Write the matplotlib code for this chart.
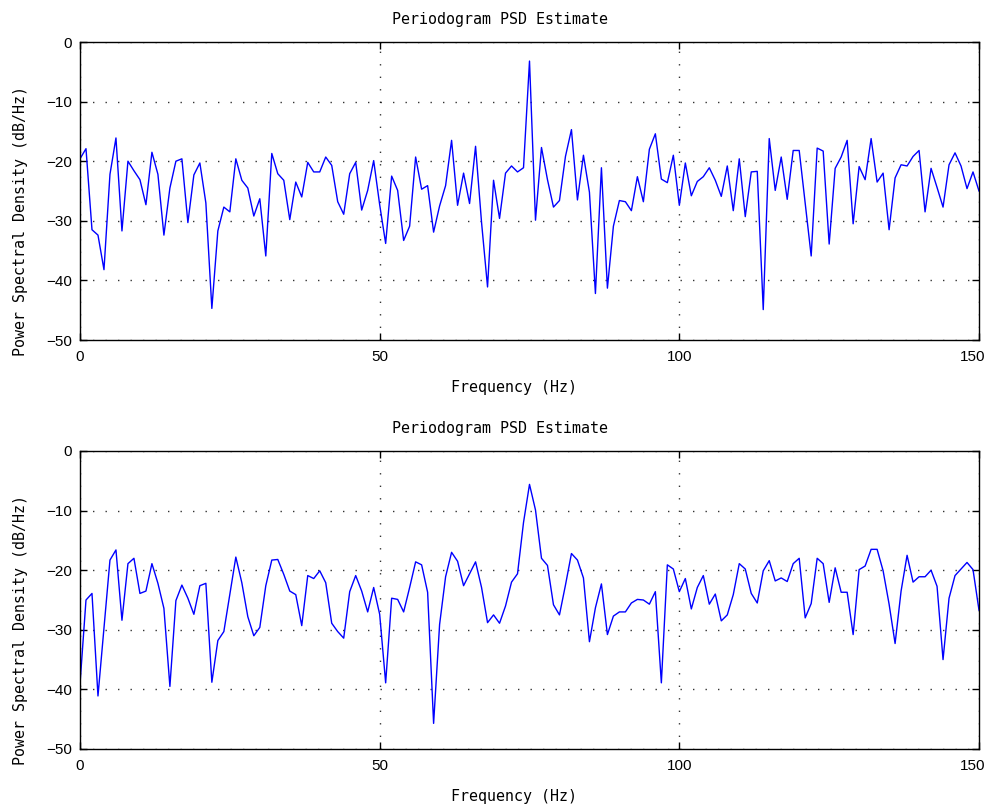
import numpy as np
import matplotlib
matplotlib.use("Agg")
import matplotlib.pyplot as plt
import matplotlib.transforms as mtransforms

freq = list(range(0, 151))

psd_top = [
    -19.6, -17.9, -31.5, -32.4, -38.2, -22.2, -16.1, -31.7, -20.0, -21.6,
    -23.1, -27.3, -18.5, -22.2, -32.4, -24.5, -20.0, -19.6, -30.3, -22.3,
    -20.3, -27.0, -44.7, -31.7, -27.7, -28.5, -19.6, -23.2, -24.5, -29.2,
    -26.3, -35.9, -18.7, -22.1, -23.2, -29.8, -23.5, -26.0, -20.2, -21.8,
    -21.8, -19.3, -20.7, -26.8, -28.9, -22.1, -20.2, -28.2, -24.9, -19.9,
    -27.3, -33.8, -22.5, -24.9, -33.3, -30.9, -19.3, -24.7, -24.1, -31.9,
    -27.5, -24.1, -16.5, -27.4, -22.0, -27.1, -17.5, -30.3, -41.1, -23.2,
    -29.6, -22.0, -20.8, -21.8, -21.1, -3.2, -29.9, -17.7, -23.1, -27.7,
    -26.6, -19.2, -14.7, -26.5, -19.0, -25.2, -42.2, -21.1, -41.3, -30.9,
    -26.6, -26.8, -28.3, -22.6, -26.8, -18.0, -15.4, -23.0, -23.6, -19.0,
    -27.4, -20.3, -25.8, -23.4, -22.6, -21.1, -23.2, -25.9, -20.8, -28.3,
    -19.6, -29.3, -21.8, -21.7, -44.9, -16.2, -24.9, -19.3, -26.4, -18.2,
    -18.2, -27.0, -35.9, -17.8, -18.3, -33.9, -21.2, -19.3, -16.5, -30.5,
    -20.9, -23.1, -16.2, -23.5, -22.0, -31.5, -22.8, -20.6, -20.8, -19.2,
    -18.2, -28.5, -21.2, -24.4, -27.7, -20.6, -18.6, -20.8, -24.6, -21.8,
    -25.0,
]

psd_bottom = [
    -39.1, -25.0, -23.9, -41.1, -29.6, -18.3, -16.6, -28.4, -18.9, -18.0,
    -23.9, -23.5, -18.9, -22.2, -26.4, -39.5, -25.1, -22.5, -24.7, -27.4,
    -22.6, -22.2, -38.8, -31.8, -30.3, -24.0, -17.8, -22.1, -27.8, -31.0,
    -29.6, -22.6, -18.3, -18.2, -20.7, -23.5, -24.1, -29.3, -20.9, -21.4,
    -20.1, -22.1, -28.9, -30.3, -31.4, -23.6, -20.9, -23.5, -27.0, -22.9,
    -27.4, -38.9, -24.7, -24.9, -27.0, -22.9, -18.6, -19.1, -23.7, -45.7,
    -29.1, -21.1, -17.0, -18.5, -22.6, -20.6, -18.6, -22.9, -28.8, -27.5,
    -28.9, -26.0, -22.0, -20.6, -12.0, -5.6, -9.9, -18.0, -19.2, -25.8,
    -27.5, -22.5, -17.2, -18.3, -21.3, -32.0, -26.3, -22.3, -30.8, -27.7,
    -27.0, -27.0, -25.5, -24.9, -25.0, -25.7, -23.6, -38.9, -19.1, -19.8,
    -23.6, -21.4, -26.5, -22.9, -20.9, -25.7, -24.0, -28.5, -27.5, -24.1,
    -18.9, -19.8, -23.9, -25.5, -20.1, -18.4, -21.8, -21.3, -21.9, -18.9,
    -18.0, -28.0, -25.6, -18.0, -18.9, -25.4, -19.6, -23.7, -23.7, -30.8,
    -19.9, -19.3, -16.5, -16.5, -20.1, -25.7, -32.3, -23.5, -17.5, -22.0,
    -21.1, -21.1, -20.0, -22.7, -35.0, -24.7, -20.9, -19.8, -18.7, -19.9,
    -26.7,
]

xticks = [0, 50, 100, 150]
yticks = [0, -10, -20, -30, -40, -50]
title = "Periodogram PSD Estimate"
xlabel = "Frequency (Hz)"
ylabel = "Power Spectral Density (dB/Hz)"

label_font = ["DejaVu Sans Mono"]
tick_font = ["Liberation Sans", "DejaVu Sans"]

fig = plt.figure(figsize=(9.9, 8.09), dpi=100)
ax1 = fig.add_axes([80/990, 1-340/809, 899/990, 298/809])
ax2 = fig.add_axes([80/990, 1-749/809, 899/990, 298/809])

for ax, data in ((ax1, psd_top), (ax2, psd_bottom)):
    ax.plot(freq, data, color="#0000ff", lw=1.0)
    ax.set_xlim(0, 150)
    ax.set_ylim(-50, 0)
    ax.set_xticks(xticks)
    ax.set_yticks(yticks)
    ax.set_xticklabels([str(t) for t in xticks], family=tick_font, fontsize=11)
    ax.set_yticklabels([str(t).replace("-", "\u2212") for t in yticks], family=tick_font, fontsize=11)
    ax.tick_params(direction="in", length=5, width=1, top=True, right=True, pad=6)
    ax.tick_params(axis="x", pad=7)
    ax.grid(True, color="black", linestyle=(0, (1, 8)), linewidth=1.0, alpha=0.8)
    for s in ax.spines.values():
        s.set_linewidth(1.0)
        s.set_color("black")
    # shift the last x tick label a little left so it stays inside the figure
    last = ax.get_xticklabels()[-1]
    last.set_transform(last.get_transform() + mtransforms.ScaledTranslation(-6/100, 0, fig.dpi_scale_trans))
    ax.set_title(title, family=label_font, fontsize=10.8, pad=13, x=(500-80)/899)
    ax.set_xlabel(xlabel, family=label_font, fontsize=10.8, labelpad=15)
    ax.xaxis.set_label_coords((514-80)/899, -0.135)
    ax.set_ylabel(ylabel, family=label_font, fontsize=10.8)
    ax.yaxis.set_label_coords(-0.058, 0.40)

fig.savefig("out.png", dpi=100)
